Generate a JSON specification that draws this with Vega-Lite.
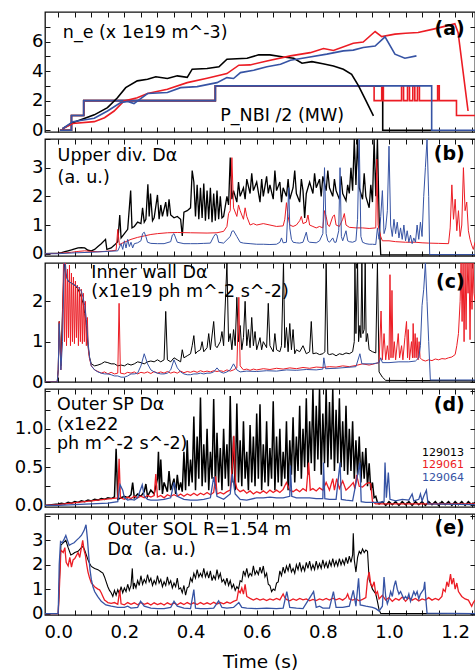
{
"$schema":"https://vega.github.io/schema/vega-lite/v6.json",
"padding":{"left":5,"top":10,"right":1,"bottom":0},
"spacing":7,
"bounds":"flush",
"config":{"view":{"stroke":"#111","strokeWidth":1.3},"concat":{"spacing":7},
"axis":{"domain":false,"grid":false,"labelFont":"DejaVu Sans","labelFontSize":18,"labelColor":"#000","tickColor":"#111","tickWidth":1,"tickSize":-5,"labelPadding":7,"labelOverlap":false,"labelFlush":false,"titleFont":"DejaVu Sans","titleColor":"#000"},
"text":{"font":"DejaVu Sans"}},
"datasets":{
"ak":[{"t":0.013,"v":0.1},{"t":0.044,"v":0.51},{"t":0.109,"v":1.04},{"t":0.149,"v":1.53},{"t":0.179,"v":2.2},{"t":0.204,"v":2.88},{"t":0.239,"v":3.34},{"t":0.27,"v":3.45},{"t":0.295,"v":3.62},{"t":0.33,"v":3.5},{"t":0.36,"v":3.68},{"t":0.39,"v":3.58},{"t":0.405,"v":4.13},{"t":0.45,"v":4.18},{"t":0.486,"v":4.29},{"t":0.51,"v":4.8},{"t":0.571,"v":4.87},{"t":0.606,"v":5.1},{"t":0.64,"v":5.1},{"t":0.681,"v":4.96},{"t":0.712,"v":4.87},{"t":0.737,"v":4.53},{"t":0.767,"v":4.64},{"t":0.8,"v":4.5},{"t":0.832,"v":4.35},{"t":0.862,"v":4.13},{"t":0.887,"v":3.79},{"t":0.908,"v":3.0},{"t":0.928,"v":2.1},{"t":0.953,"v":0.97}],
"ar":[{"t":0.013,"v":0.1},{"t":0.044,"v":0.45},{"t":0.109,"v":0.58},{"t":0.14,"v":0.85},{"t":0.169,"v":1.3},{"t":0.199,"v":1.98},{"t":0.239,"v":2.2},{"t":0.27,"v":2.48},{"t":0.33,"v":2.77},{"t":0.39,"v":3.22},{"t":0.45,"v":3.52},{"t":0.51,"v":3.83},{"t":0.546,"v":4.4},{"t":0.58,"v":4.42},{"t":0.631,"v":4.69},{"t":0.702,"v":5.03},{"t":0.762,"v":5.25},{"t":0.802,"v":5.53},{"t":0.832,"v":5.4},{"t":0.892,"v":5.89},{"t":0.922,"v":5.97},{"t":0.958,"v":6.68},{"t":0.978,"v":6.34},{"t":1.018,"v":6.5},{"t":1.05,"v":6.56},{"t":1.088,"v":6.61},{"t":1.134,"v":6.84},{"t":1.174,"v":7.06},{"t":1.199,"v":7.2},{"t":1.209,"v":6.6},{"t":1.239,"v":1.3}],
"ab":[{"t":0.013,"v":0.1},{"t":0.044,"v":0.58},{"t":0.109,"v":0.81},{"t":0.149,"v":1.3},{"t":0.189,"v":1.87},{"t":0.21,"v":1.95},{"t":0.229,"v":1.8},{"t":0.27,"v":2.48},{"t":0.33,"v":2.55},{"t":0.37,"v":2.88},{"t":0.42,"v":2.95},{"t":0.48,"v":3.22},{"t":0.51,"v":3.56},{"t":0.53,"v":3.5},{"t":0.551,"v":3.9},{"t":0.591,"v":4.06},{"t":0.631,"v":4.29},{"t":0.672,"v":4.47},{"t":0.702,"v":4.74},{"t":0.752,"v":4.92},{"t":0.812,"v":5.15},{"t":0.862,"v":5.37},{"t":0.892,"v":5.42},{"t":0.922,"v":5.6},{"t":0.958,"v":5.7},{"t":0.988,"v":6.32},{"t":1.018,"v":5.15},{"t":1.048,"v":4.87},{"t":1.083,"v":5.03}],
"pk":[{"t":0.005,"v":0},{"t":0.04,"v":1},{"t":0.077,"v":2},{"t":0.475,"v":3},{"t":0.981,"v":0},{"t":1.13,"v":0}],
"pr":[{"t":0.005,"v":0},{"t":0.04,"v":1},{"t":0.077,"v":2},{"t":0.475,"v":3},{"t":0.955,"v":2},{"t":0.978,"v":3},{"t":0.983,"v":2},{"t":1.038,"v":3},{"t":1.044,"v":2},{"t":1.056,"v":3},{"t":1.062,"v":2},{"t":1.072,"v":3},{"t":1.078,"v":2},{"t":1.086,"v":3},{"t":1.092,"v":2},{"t":1.147,"v":3},{"t":1.152,"v":2},{"t":1.204,"v":1},{"t":1.26,"v":1}],
"pb":[{"t":0.005,"v":0},{"t":0.04,"v":1},{"t":0.077,"v":2},{"t":0.475,"v":3},{"t":1.129,"v":0},{"t":1.26,"v":0}],
"bk":[{"t":-0.04,"v":0},{"t":0,"v":0.02},{"t":0.01,"v":0.04},{"t":0.02,"v":0.07},{"t":0.03,"v":0.1},{"t":0.04,"v":0.13},{"t":0.05,"v":0.17},{"t":0.06,"v":0.2},{"t":0.07,"v":0.21},{"t":0.08,"v":0.2},{"t":0.09,"v":0.12},{"t":0.1,"v":0.1},{"t":0.11,"v":0.15},{"t":0.12,"v":0.25},{"t":0.13,"v":0.35},{"t":0.143,"v":0.5},{"t":0.147,"v":0.15},{"t":0.16,"v":0.2},{"t":0.17,"v":0.3},{"t":0.18,"v":0.42},{"t":0.186,"v":1.35},{"t":0.19,"v":0.55},{"t":0.2,"v":0.7},{"t":0.21,"v":0.85},{"t":0.219,"v":2.2},{"t":0.223,"v":0.9},{"t":0.23,"v":0.95},{"t":0.24,"v":1.1},{"t":0.25,"v":1.05},{"t":0.255,"v":1.6},{"t":0.26,"v":1.1},{"t":0.265,"v":1.2},{"t":0.271,"v":2.42},{"t":0.275,"v":1.3},{"t":0.279,"v":2.1},{"t":0.285,"v":1.15},{"t":0.29,"v":1.25},{"t":0.3,"v":2.05},{"t":0.305,"v":1.2},{"t":0.31,"v":1.7},{"t":0.315,"v":1.3},{"t":0.325,"v":1.8},{"t":0.33,"v":1.3},{"t":0.335,"v":1.9},{"t":0.34,"v":1.35},{"t":0.35,"v":1.25},{"t":0.36,"v":1.3},{"t":0.37,"v":1.2},{"t":0.375,"v":0.62},{"t":0.38,"v":1.45},{"t":0.39,"v":1.5},{"t":0.4,"v":1.6},{"t":0.405,"v":2.9},{"t":0.41,"v":2.5},{"t":0.415,"v":1.3},{"t":0.42,"v":2.4},{"t":0.425,"v":1.2},{"t":0.43,"v":2.3},{"t":0.435,"v":1.25},{"t":0.44,"v":2.45},{"t":0.445,"v":1.15},{"t":0.45,"v":2.2},{"t":0.455,"v":1.2},{"t":0.46,"v":2.3},{"t":0.465,"v":1.1},{"t":0.47,"v":2.1},{"t":0.475,"v":1.15},{"t":0.48,"v":2.2},{"t":0.485,"v":1.2},{"t":0.49,"v":2.0},{"t":0.495,"v":1.25},{"t":0.5,"v":1.3},{"t":0.51,"v":2.0},{"t":0.515,"v":1.7},{"t":0.52,"v":3.35},{"t":0.525,"v":1.9},{"t":0.53,"v":2.2},{"t":0.54,"v":1.8},{"t":0.545,"v":2.5},{"t":0.55,"v":2.0},{"t":0.56,"v":2.3},{"t":0.565,"v":1.9},{"t":0.57,"v":2.6},{"t":0.58,"v":2.1},{"t":0.585,"v":2.8},{"t":0.59,"v":2.2},{"t":0.6,"v":2.5},{"t":0.61,"v":1.8},{"t":0.615,"v":2.6},{"t":0.62,"v":2.0},{"t":0.63,"v":2.7},{"t":0.635,"v":2.1},{"t":0.64,"v":2.4},{"t":0.65,"v":1.9},{"t":0.655,"v":2.9},{"t":0.66,"v":2.2},{"t":0.67,"v":2.5},{"t":0.675,"v":1.8},{"t":0.68,"v":2.3},{"t":0.69,"v":2.0},{"t":0.695,"v":2.6},{"t":0.7,"v":1.9},{"t":0.71,"v":2.3},{"t":0.715,"v":2.9},{"t":0.72,"v":2.1},{"t":0.73,"v":1.8},{"t":0.735,"v":2.6},{"t":0.74,"v":2.2},{"t":0.745,"v":1.25},{"t":0.75,"v":2.1},{"t":0.755,"v":2.3},{"t":0.76,"v":2.5},{"t":0.77,"v":2.1},{"t":0.775,"v":2.8},{"t":0.78,"v":2.3},{"t":0.79,"v":2.6},{"t":0.795,"v":2.0},{"t":0.8,"v":2.7},{"t":0.81,"v":2.2},{"t":0.815,"v":2.9},{"t":0.82,"v":2.3},{"t":0.83,"v":2.0},{"t":0.835,"v":2.6},{"t":0.84,"v":2.2},{"t":0.85,"v":1.9},{"t":0.855,"v":2.7},{"t":0.86,"v":2.1},{"t":0.87,"v":1.85},{"t":0.875,"v":2.4},{"t":0.88,"v":2.1},{"t":0.885,"v":3.0},{"t":0.89,"v":2.2},{"t":0.895,"v":4.0},{"t":0.9,"v":2.4},{"t":0.905,"v":4.0},{"t":0.91,"v":2.3},{"t":0.92,"v":1.9},{"t":0.925,"v":2.8},{"t":0.93,"v":2.0},{"t":0.94,"v":1.6},{"t":0.945,"v":2.4},{"t":0.95,"v":1.8},{"t":0.955,"v":4.0},{"t":0.96,"v":2.0},{"t":0.965,"v":4.0},{"t":0.97,"v":1.3},{"t":0.975,"v":-0.04},{"t":1.26,"v":-0.04}],
"br":[{"t":-0.04,"v":0},{"t":0,"v":0.01},{"t":0.02,"v":0.03},{"t":0.04,"v":0.05},{"t":0.06,"v":0.08},{"t":0.08,"v":0.1},{"t":0.1,"v":0.08},{"t":0.12,"v":0.07},{"t":0.14,"v":0.08},{"t":0.16,"v":0.1},{"t":0.175,"v":0.12},{"t":0.18,"v":0.85},{"t":0.185,"v":0.3},{"t":0.19,"v":0.35},{"t":0.2,"v":0.4},{"t":0.22,"v":0.5},{"t":0.24,"v":0.57},{"t":0.26,"v":0.62},{"t":0.28,"v":0.67},{"t":0.3,"v":0.7},{"t":0.33,"v":0.73},{"t":0.36,"v":0.74},{"t":0.4,"v":0.73},{"t":0.45,"v":0.72},{"t":0.48,"v":0.73},{"t":0.5,"v":0.78},{"t":0.51,"v":0.95},{"t":0.515,"v":1.4},{"t":0.52,"v":1.5},{"t":0.525,"v":3.35},{"t":0.53,"v":1.6},{"t":0.54,"v":1.3},{"t":0.545,"v":1.7},{"t":0.55,"v":1.5},{"t":0.56,"v":1.2},{"t":0.565,"v":1.6},{"t":0.57,"v":1.3},{"t":0.58,"v":1.0},{"t":0.59,"v":1.05},{"t":0.6,"v":1.0},{"t":0.62,"v":1.05},{"t":0.64,"v":1.0},{"t":0.66,"v":0.95},{"t":0.68,"v":0.97},{"t":0.685,"v":1.2},{"t":0.69,"v":1.78},{"t":0.695,"v":1.3},{"t":0.7,"v":1.0},{"t":0.71,"v":0.95},{"t":0.72,"v":1.0},{"t":0.73,"v":1.15},{"t":0.735,"v":1.3},{"t":0.74,"v":1.05},{"t":0.75,"v":1.1},{"t":0.755,"v":1.35},{"t":0.76,"v":1.0},{"t":0.77,"v":0.95},{"t":0.78,"v":0.9},{"t":0.79,"v":0.95},{"t":0.8,"v":0.9},{"t":0.805,"v":1.5},{"t":0.81,"v":1.3},{"t":0.815,"v":1.0},{"t":0.82,"v":0.95},{"t":0.83,"v":1.3},{"t":0.835,"v":1.35},{"t":0.84,"v":1.0},{"t":0.85,"v":0.95},{"t":0.86,"v":1.2},{"t":0.865,"v":1.4},{"t":0.87,"v":1.0},{"t":0.88,"v":0.92},{"t":0.9,"v":0.9},{"t":0.92,"v":0.9},{"t":0.94,"v":0.88},{"t":0.96,"v":0.9},{"t":0.963,"v":3.3},{"t":0.967,"v":1.0},{"t":0.975,"v":0.6},{"t":0.98,"v":0.45},{"t":1.0,"v":0.45},{"t":1.02,"v":0.42},{"t":1.05,"v":0.4},{"t":1.08,"v":0.4},{"t":1.1,"v":0.38},{"t":1.12,"v":0.37},{"t":1.15,"v":0.36},{"t":1.18,"v":0.35},{"t":1.185,"v":0.9},{"t":1.19,"v":2.4},{"t":1.195,"v":1.2},{"t":1.2,"v":1.9},{"t":1.205,"v":0.8},{"t":1.21,"v":1.5},{"t":1.215,"v":0.6},{"t":1.22,"v":1.0},{"t":1.225,"v":3.0},{"t":1.23,"v":1.5},{"t":1.235,"v":1.8},{"t":1.24,"v":0.8},{"t":1.245,"v":0.5},{"t":1.25,"v":0.3},{"t":1.255,"v":0.15},{"t":1.26,"v":0.4}],
"bb":[{"t":-0.04,"v":0},{"t":0,"v":0.0},{"t":0.05,"v":0.03},{"t":0.1,"v":0.05},{"t":0.15,"v":0.08},{"t":0.18,"v":0.1},{"t":0.19,"v":0.35},{"t":0.195,"v":0.15},{"t":0.2,"v":0.45},{"t":0.205,"v":0.2},{"t":0.21,"v":0.5},{"t":0.215,"v":0.25},{"t":0.22,"v":0.4},{"t":0.225,"v":0.2},{"t":0.23,"v":0.35},{"t":0.24,"v":0.38},{"t":0.25,"v":0.45},{"t":0.255,"v":0.7},{"t":0.26,"v":0.75},{"t":0.265,"v":0.6},{"t":0.27,"v":0.4},{"t":0.28,"v":0.36},{"t":0.3,"v":0.35},{"t":0.32,"v":0.35},{"t":0.34,"v":0.42},{"t":0.345,"v":0.65},{"t":0.35,"v":0.7},{"t":0.355,"v":0.55},{"t":0.36,"v":0.4},{"t":0.38,"v":0.35},{"t":0.4,"v":0.35},{"t":0.42,"v":0.35},{"t":0.44,"v":0.36},{"t":0.46,"v":0.37},{"t":0.47,"v":0.6},{"t":0.475,"v":0.68},{"t":0.48,"v":0.65},{"t":0.485,"v":0.4},{"t":0.5,"v":0.37},{"t":0.52,"v":0.6},{"t":0.525,"v":0.78},{"t":0.53,"v":0.8},{"t":0.54,"v":0.6},{"t":0.55,"v":0.4},{"t":0.56,"v":0.37},{"t":0.58,"v":0.35},{"t":0.6,"v":0.33},{"t":0.62,"v":0.33},{"t":0.64,"v":0.32},{"t":0.66,"v":0.33},{"t":0.67,"v":0.4},{"t":0.675,"v":0.55},{"t":0.68,"v":0.38},{"t":0.69,"v":0.4},{"t":0.697,"v":2.3},{"t":0.7,"v":0.9},{"t":0.705,"v":0.5},{"t":0.71,"v":0.4},{"t":0.72,"v":0.38},{"t":0.73,"v":0.37},{"t":0.74,"v":0.4},{"t":0.75,"v":0.75},{"t":0.755,"v":0.45},{"t":0.76,"v":0.4},{"t":0.78,"v":0.38},{"t":0.79,"v":0.45},{"t":0.8,"v":0.7},{"t":0.805,"v":3.0},{"t":0.81,"v":0.7},{"t":0.815,"v":0.45},{"t":0.82,"v":0.4},{"t":0.83,"v":0.55},{"t":0.835,"v":0.4},{"t":0.84,"v":0.4},{"t":0.848,"v":0.8},{"t":0.852,"v":3.0},{"t":0.856,"v":0.6},{"t":0.86,"v":0.45},{"t":0.87,"v":0.8},{"t":0.875,"v":0.45},{"t":0.88,"v":0.42},{"t":0.89,"v":0.4},{"t":0.9,"v":0.45},{"t":0.905,"v":1.2},{"t":0.91,"v":4.0},{"t":0.915,"v":0.6},{"t":0.92,"v":0.4},{"t":0.93,"v":0.35},{"t":0.94,"v":0.33},{"t":0.95,"v":0.33},{"t":0.96,"v":0.32},{"t":0.965,"v":0.9},{"t":0.97,"v":0.5},{"t":0.975,"v":1.3},{"t":0.98,"v":2.2},{"t":0.985,"v":0.7},{"t":0.99,"v":0.9},{"t":0.995,"v":1.5},{"t":1.0,"v":3.75},{"t":1.005,"v":1.0},{"t":1.01,"v":0.6},{"t":1.015,"v":1.2},{"t":1.02,"v":0.7},{"t":1.025,"v":1.1},{"t":1.03,"v":0.55},{"t":1.035,"v":0.9},{"t":1.04,"v":0.5},{"t":1.045,"v":1.0},{"t":1.05,"v":0.45},{"t":1.055,"v":0.8},{"t":1.06,"v":0.4},{"t":1.065,"v":0.65},{"t":1.07,"v":0.35},{"t":1.075,"v":0.55},{"t":1.08,"v":0.4},{"t":1.085,"v":1.0},{"t":1.09,"v":0.5},{"t":1.095,"v":1.1},{"t":1.1,"v":0.6},{"t":1.105,"v":2.0},{"t":1.11,"v":3.0},{"t":1.115,"v":4.0},{"t":1.12,"v":2.0},{"t":1.123,"v":-0.03},{"t":1.26,"v":-0.03}],
"ck":[{"t":-0.04,"v":0},{"t":-0.003,"v":0},{"t":0,"v":0.3},{"t":0.003,"v":1.5},{"t":0.008,"v":0.4},{"t":0.013,"v":1.8},{"t":0.018,"v":2.95},{"t":0.022,"v":2.7},{"t":0.03,"v":2.5},{"t":0.04,"v":2.45},{"t":0.05,"v":2.4},{"t":0.06,"v":2.3},{"t":0.07,"v":2.1},{"t":0.075,"v":1.95},{"t":0.08,"v":1.7},{"t":0.085,"v":1.4},{"t":0.09,"v":0.9},{"t":0.095,"v":0.6},{"t":0.1,"v":0.45},{"t":0.11,"v":0.4},{"t":0.12,"v":0.42},{"t":0.13,"v":0.45},{"t":0.14,"v":0.5},{"t":0.15,"v":0.48},{"t":0.16,"v":0.45},{"t":0.17,"v":0.45},{"t":0.18,"v":0.4},{"t":0.19,"v":0.42},{"t":0.2,"v":0.4},{"t":0.21,"v":0.45},{"t":0.22,"v":0.42},{"t":0.23,"v":0.45},{"t":0.24,"v":0.5},{"t":0.25,"v":0.48},{"t":0.26,"v":0.45},{"t":0.27,"v":0.5},{"t":0.28,"v":0.52},{"t":0.29,"v":0.5},{"t":0.3,"v":0.55},{"t":0.31,"v":0.5},{"t":0.32,"v":0.55},{"t":0.325,"v":1.75},{"t":0.33,"v":0.55},{"t":0.34,"v":0.5},{"t":0.35,"v":0.6},{"t":0.36,"v":0.55},{"t":0.37,"v":0.5},{"t":0.375,"v":0.8},{"t":0.38,"v":0.6},{"t":0.39,"v":0.65},{"t":0.4,"v":0.7},{"t":0.405,"v":0.9},{"t":0.41,"v":1.15},{"t":0.415,"v":0.7},{"t":0.42,"v":0.75},{"t":0.43,"v":0.8},{"t":0.435,"v":1.0},{"t":0.44,"v":0.75},{"t":0.45,"v":0.85},{"t":0.455,"v":1.2},{"t":0.46,"v":0.8},{"t":0.47,"v":1.5},{"t":0.475,"v":0.9},{"t":0.48,"v":0.85},{"t":0.49,"v":1.0},{"t":0.495,"v":1.25},{"t":0.5,"v":0.9},{"t":0.51,"v":2.95},{"t":0.515,"v":1.0},{"t":0.52,"v":1.2},{"t":0.525,"v":0.8},{"t":0.53,"v":1.3},{"t":0.535,"v":0.9},{"t":0.54,"v":2.1},{"t":0.545,"v":1.0},{"t":0.55,"v":1.4},{"t":0.555,"v":0.8},{"t":0.56,"v":1.1},{"t":0.565,"v":2.0},{"t":0.57,"v":0.9},{"t":0.575,"v":1.3},{"t":0.58,"v":0.85},{"t":0.585,"v":1.6},{"t":0.59,"v":0.9},{"t":0.595,"v":1.25},{"t":0.6,"v":0.8},{"t":0.61,"v":1.1},{"t":0.615,"v":0.8},{"t":0.62,"v":1.0},{"t":0.63,"v":0.85},{"t":0.635,"v":1.95},{"t":0.64,"v":0.9},{"t":0.65,"v":0.75},{"t":0.655,"v":1.2},{"t":0.66,"v":0.8},{"t":0.67,"v":0.75},{"t":0.675,"v":0.9},{"t":0.681,"v":2.95},{"t":0.685,"v":0.85},{"t":0.69,"v":1.35},{"t":0.695,"v":0.75},{"t":0.7,"v":1.45},{"t":0.705,"v":0.8},{"t":0.71,"v":1.3},{"t":0.715,"v":0.7},{"t":0.72,"v":0.8},{"t":0.73,"v":0.75},{"t":0.74,"v":0.9},{"t":0.75,"v":0.7},{"t":0.76,"v":0.75},{"t":0.765,"v":1.5},{"t":0.77,"v":0.7},{"t":0.78,"v":0.72},{"t":0.79,"v":0.68},{"t":0.8,"v":0.7},{"t":0.806,"v":0.75},{"t":0.81,"v":2.95},{"t":0.815,"v":0.7},{"t":0.82,"v":0.68},{"t":0.83,"v":0.7},{"t":0.84,"v":0.65},{"t":0.85,"v":0.7},{"t":0.86,"v":0.68},{"t":0.87,"v":0.72},{"t":0.88,"v":0.7},{"t":0.89,"v":0.75},{"t":0.895,"v":1.0},{"t":0.897,"v":2.95},{"t":0.9,"v":1.2},{"t":0.905,"v":2.95},{"t":0.908,"v":1.0},{"t":0.912,"v":1.4},{"t":0.915,"v":1.1},{"t":0.918,"v":2.95},{"t":0.921,"v":1.2},{"t":0.925,"v":1.3},{"t":0.928,"v":2.95},{"t":0.931,"v":1.0},{"t":0.935,"v":1.2},{"t":0.94,"v":0.8},{"t":0.95,"v":0.75},{"t":0.96,"v":0.72},{"t":0.965,"v":2.95},{"t":0.97,"v":0.25},{"t":0.98,"v":0.12},{"t":0.99,"v":0.04},{"t":1.26,"v":0.03}],
"cr":[{"t":-0.04,"v":0},{"t":-0.003,"v":0},{"t":0,"v":0.3},{"t":0.003,"v":1.5},{"t":0.008,"v":0.3},{"t":0.012,"v":1.2},{"t":0.016,"v":2.95},{"t":0.019,"v":1.0},{"t":0.022,"v":2.95},{"t":0.025,"v":0.9},{"t":0.028,"v":2.8},{"t":0.031,"v":1.1},{"t":0.034,"v":2.9},{"t":0.037,"v":0.9},{"t":0.04,"v":2.7},{"t":0.043,"v":1.0},{"t":0.046,"v":2.6},{"t":0.049,"v":0.95},{"t":0.052,"v":2.5},{"t":0.055,"v":1.1},{"t":0.058,"v":2.4},{"t":0.061,"v":0.9},{"t":0.064,"v":2.35},{"t":0.067,"v":1.0},{"t":0.07,"v":2.3},{"t":0.073,"v":0.95},{"t":0.076,"v":2.2},{"t":0.079,"v":1.0},{"t":0.082,"v":2.0},{"t":0.085,"v":0.9},{"t":0.088,"v":1.6},{"t":0.091,"v":0.8},{"t":0.094,"v":0.6},{"t":0.1,"v":0.4},{"t":0.11,"v":0.3},{"t":0.12,"v":0.26},{"t":0.13,"v":0.22},{"t":0.14,"v":0.25},{"t":0.15,"v":0.2},{"t":0.16,"v":0.24},{"t":0.17,"v":0.2},{"t":0.18,"v":0.22},{"t":0.184,"v":1.95},{"t":0.188,"v":0.22},{"t":0.2,"v":0.2},{"t":0.21,"v":0.24},{"t":0.22,"v":0.22},{"t":0.23,"v":0.25},{"t":0.24,"v":0.2},{"t":0.25,"v":0.24},{"t":0.26,"v":0.22},{"t":0.27,"v":0.25},{"t":0.28,"v":0.21},{"t":0.29,"v":0.26},{"t":0.3,"v":0.22},{"t":0.31,"v":0.25},{"t":0.32,"v":0.22},{"t":0.33,"v":0.26},{"t":0.34,"v":0.22},{"t":0.35,"v":0.25},{"t":0.36,"v":0.22},{"t":0.37,"v":0.27},{"t":0.38,"v":0.23},{"t":0.39,"v":0.26},{"t":0.4,"v":0.24},{"t":0.41,"v":0.27},{"t":0.42,"v":0.24},{"t":0.43,"v":0.28},{"t":0.44,"v":0.25},{"t":0.45,"v":0.27},{"t":0.46,"v":0.25},{"t":0.47,"v":0.28},{"t":0.48,"v":0.26},{"t":0.49,"v":0.28},{"t":0.5,"v":0.26},{"t":0.51,"v":0.3},{"t":0.52,"v":0.27},{"t":0.53,"v":0.3},{"t":0.54,"v":0.35},{"t":0.546,"v":2.1},{"t":0.55,"v":0.4},{"t":0.56,"v":0.3},{"t":0.57,"v":0.32},{"t":0.58,"v":0.29},{"t":0.59,"v":0.32},{"t":0.6,"v":0.3},{"t":0.62,"v":0.33},{"t":0.64,"v":0.31},{"t":0.66,"v":0.34},{"t":0.68,"v":0.32},{"t":0.7,"v":0.35},{"t":0.72,"v":0.33},{"t":0.74,"v":0.36},{"t":0.76,"v":0.34},{"t":0.78,"v":0.37},{"t":0.8,"v":0.36},{"t":0.82,"v":0.38},{"t":0.84,"v":0.37},{"t":0.86,"v":0.4},{"t":0.88,"v":0.38},{"t":0.9,"v":0.41},{"t":0.92,"v":0.45},{"t":0.94,"v":0.42},{"t":0.96,"v":0.46},{"t":0.97,"v":0.48},{"t":0.976,"v":1.76},{"t":0.98,"v":0.55},{"t":0.985,"v":1.2},{"t":0.99,"v":0.55},{"t":0.995,"v":0.9},{"t":1.0,"v":0.55},{"t":1.003,"v":2.66},{"t":1.006,"v":0.6},{"t":1.009,"v":2.27},{"t":1.012,"v":0.6},{"t":1.016,"v":1.0},{"t":1.02,"v":0.55},{"t":1.028,"v":1.2},{"t":1.032,"v":0.6},{"t":1.038,"v":0.9},{"t":1.042,"v":0.55},{"t":1.048,"v":1.1},{"t":1.053,"v":1.5},{"t":1.056,"v":0.6},{"t":1.058,"v":1.3},{"t":1.062,"v":0.55},{"t":1.068,"v":1.0},{"t":1.071,"v":0.6},{"t":1.073,"v":1.45},{"t":1.076,"v":0.6},{"t":1.079,"v":1.2},{"t":1.082,"v":0.6},{"t":1.085,"v":1.1},{"t":1.088,"v":0.55},{"t":1.091,"v":1.0},{"t":1.094,"v":0.6},{"t":1.1,"v":0.55},{"t":1.11,"v":0.52},{"t":1.12,"v":0.55},{"t":1.13,"v":0.53},{"t":1.14,"v":0.57},{"t":1.15,"v":0.55},{"t":1.16,"v":0.58},{"t":1.17,"v":0.57},{"t":1.18,"v":0.6},{"t":1.19,"v":0.62},{"t":1.2,"v":0.68},{"t":1.205,"v":0.9},{"t":1.21,"v":1.2},{"t":1.215,"v":2.0},{"t":1.218,"v":2.95},{"t":1.221,"v":1.5},{"t":1.224,"v":2.95},{"t":1.227,"v":1.0},{"t":1.23,"v":2.95},{"t":1.233,"v":1.3},{"t":1.236,"v":2.95},{"t":1.239,"v":2.2},{"t":1.242,"v":2.95},{"t":1.245,"v":1.05},{"t":1.248,"v":2.95},{"t":1.251,"v":1.8},{"t":1.254,"v":2.95},{"t":1.257,"v":2.2},{"t":1.26,"v":2.0}],
"cb":[{"t":-0.04,"v":0},{"t":-0.003,"v":0},{"t":0,"v":0.3},{"t":0.003,"v":1.45},{"t":0.008,"v":0.3},{"t":0.013,"v":1.0},{"t":0.018,"v":2.95},{"t":0.022,"v":2.9},{"t":0.025,"v":2.6},{"t":0.03,"v":2.5},{"t":0.04,"v":2.45},{"t":0.05,"v":2.4},{"t":0.06,"v":2.35},{"t":0.07,"v":2.25},{"t":0.075,"v":2.1},{"t":0.08,"v":1.9},{"t":0.085,"v":1.55},{"t":0.09,"v":1.0},{"t":0.095,"v":0.6},{"t":0.1,"v":0.4},{"t":0.11,"v":0.3},{"t":0.12,"v":0.25},{"t":0.13,"v":0.22},{"t":0.14,"v":0.2},{"t":0.15,"v":0.2},{"t":0.16,"v":0.18},{"t":0.17,"v":0.15},{"t":0.18,"v":0.15},{"t":0.19,"v":0.12},{"t":0.2,"v":0.12},{"t":0.21,"v":0.15},{"t":0.22,"v":0.2},{"t":0.23,"v":0.2},{"t":0.24,"v":0.22},{"t":0.25,"v":0.4},{"t":0.26,"v":0.7},{"t":0.27,"v":0.45},{"t":0.28,"v":0.3},{"t":0.29,"v":0.25},{"t":0.3,"v":0.22},{"t":0.31,"v":0.2},{"t":0.32,"v":0.2},{"t":0.33,"v":0.22},{"t":0.34,"v":0.3},{"t":0.35,"v":0.55},{"t":0.36,"v":0.35},{"t":0.37,"v":0.25},{"t":0.38,"v":0.2},{"t":0.39,"v":0.18},{"t":0.4,"v":0.18},{"t":0.41,"v":0.2},{"t":0.42,"v":0.2},{"t":0.43,"v":0.22},{"t":0.44,"v":0.2},{"t":0.45,"v":0.22},{"t":0.46,"v":0.22},{"t":0.47,"v":0.25},{"t":0.48,"v":0.35},{"t":0.49,"v":0.25},{"t":0.5,"v":0.22},{"t":0.51,"v":0.25},{"t":0.52,"v":0.3},{"t":0.53,"v":0.45},{"t":0.54,"v":0.3},{"t":0.55,"v":0.25},{"t":0.57,"v":0.27},{"t":0.6,"v":0.26},{"t":0.63,"v":0.28},{"t":0.66,"v":0.27},{"t":0.69,"v":0.3},{"t":0.72,"v":0.29},{"t":0.75,"v":0.31},{"t":0.78,"v":0.3},{"t":0.8,"v":0.32},{"t":0.803,"v":0.6},{"t":0.808,"v":0.33},{"t":0.84,"v":0.34},{"t":0.87,"v":0.36},{"t":0.9,"v":0.38},{"t":0.912,"v":0.7},{"t":0.918,"v":0.45},{"t":0.95,"v":0.45},{"t":0.97,"v":0.48},{"t":0.975,"v":0.6},{"t":0.98,"v":0.48},{"t":1.0,"v":0.48},{"t":1.03,"v":0.5},{"t":1.06,"v":0.5},{"t":1.08,"v":0.52},{"t":1.09,"v":0.6},{"t":1.095,"v":0.9},{"t":1.1,"v":1.9},{"t":1.105,"v":2.3},{"t":1.11,"v":2.95},{"t":1.115,"v":2.0},{"t":1.12,"v":1.0},{"t":1.125,"v":0.05},{"t":1.26,"v":0.05}],
"dk":[{"t":-0.04,"v":0},{"t":0,"v":0.02},{"t":0.01,"v":0.03},{"t":0.02,"v":0.02},{"t":0.03,"v":0.04},{"t":0.04,"v":0.03},{"t":0.05,"v":0.05},{"t":0.06,"v":0.04},{"t":0.07,"v":0.06},{"t":0.08,"v":0.05},{"t":0.09,"v":0.07},{"t":0.1,"v":0.06},{"t":0.11,"v":0.08},{"t":0.12,"v":0.07},{"t":0.13,"v":0.09},{"t":0.14,"v":0.08},{"t":0.15,"v":0.1},{"t":0.16,"v":0.09},{"t":0.17,"v":0.11},{"t":0.175,"v":0.74},{"t":0.18,"v":0.08},{"t":0.19,"v":0.1},{"t":0.2,"v":0.12},{"t":0.21,"v":0.1},{"t":0.22,"v":0.14},{"t":0.225,"v":0.3},{"t":0.23,"v":0.1},{"t":0.24,"v":0.15},{"t":0.25,"v":0.12},{"t":0.26,"v":0.18},{"t":0.265,"v":0.28},{"t":0.27,"v":0.12},{"t":0.28,"v":0.2},{"t":0.29,"v":0.15},{"t":0.3,"v":0.35},{"t":0.303,"v":0.7},{"t":0.306,"v":0.2},{"t":0.31,"v":0.6},{"t":0.315,"v":0.15},{"t":0.32,"v":0.3},{"t":0.33,"v":0.18},{"t":0.335,"v":0.45},{"t":0.34,"v":0.2},{"t":0.35,"v":0.35},{"t":0.355,"v":0.15},{"t":0.36,"v":0.4},{"t":0.365,"v":0.2},{"t":0.37,"v":0.3},{"t":0.375,"v":0.18},{"t":0.38,"v":0.7},{"t":0.385,"v":0.2},{"t":0.39,"v":0.85},{"t":0.395,"v":0.25},{"t":0.4,"v":0.6},{"t":0.405,"v":0.3},{"t":0.41,"v":1.16},{"t":0.415,"v":0.2},{"t":0.42,"v":0.9},{"t":0.425,"v":0.35},{"t":0.43,"v":1.41},{"t":0.435,"v":0.25},{"t":0.44,"v":0.8},{"t":0.445,"v":0.3},{"t":0.45,"v":1.0},{"t":0.455,"v":0.2},{"t":0.46,"v":0.7},{"t":0.465,"v":0.35},{"t":0.47,"v":1.39},{"t":0.475,"v":0.25},{"t":0.48,"v":0.95},{"t":0.485,"v":0.3},{"t":0.49,"v":0.75},{"t":0.495,"v":0.2},{"t":0.5,"v":1.0},{"t":0.505,"v":0.35},{"t":0.51,"v":0.8},{"t":0.515,"v":0.25},{"t":0.52,"v":1.43},{"t":0.525,"v":0.3},{"t":0.53,"v":0.9},{"t":0.535,"v":0.2},{"t":0.54,"v":1.33},{"t":0.545,"v":0.3},{"t":0.55,"v":0.85},{"t":0.555,"v":0.25},{"t":0.56,"v":1.1},{"t":0.565,"v":0.35},{"t":0.57,"v":0.7},{"t":0.575,"v":0.2},{"t":0.58,"v":1.05},{"t":0.585,"v":0.3},{"t":0.59,"v":0.9},{"t":0.595,"v":0.25},{"t":0.6,"v":1.2},{"t":0.605,"v":0.35},{"t":0.61,"v":1.32},{"t":0.615,"v":0.2},{"t":0.62,"v":0.8},{"t":0.625,"v":0.3},{"t":0.63,"v":1.1},{"t":0.635,"v":0.25},{"t":0.64,"v":0.75},{"t":0.645,"v":0.35},{"t":0.65,"v":1.36},{"t":0.655,"v":0.2},{"t":0.66,"v":0.9},{"t":0.665,"v":0.3},{"t":0.67,"v":1.0},{"t":0.675,"v":0.25},{"t":0.68,"v":0.7},{"t":0.685,"v":0.35},{"t":0.69,"v":1.1},{"t":0.695,"v":0.2},{"t":0.7,"v":0.85},{"t":0.705,"v":0.4},{"t":0.71,"v":1.15},{"t":0.715,"v":0.3},{"t":0.72,"v":0.9},{"t":0.725,"v":0.45},{"t":0.73,"v":1.3},{"t":0.735,"v":0.35},{"t":0.74,"v":1.0},{"t":0.745,"v":0.5},{"t":0.75,"v":1.4},{"t":0.755,"v":0.4},{"t":0.76,"v":1.1},{"t":0.765,"v":0.55},{"t":0.77,"v":1.52},{"t":0.775,"v":0.45},{"t":0.78,"v":1.3},{"t":0.785,"v":0.6},{"t":0.79,"v":1.52},{"t":0.795,"v":0.4},{"t":0.8,"v":1.2},{"t":0.805,"v":0.55},{"t":0.81,"v":1.52},{"t":0.815,"v":0.5},{"t":0.82,"v":1.35},{"t":0.825,"v":0.6},{"t":0.83,"v":1.52},{"t":0.835,"v":0.45},{"t":0.84,"v":1.25},{"t":0.845,"v":0.55},{"t":0.85,"v":1.4},{"t":0.855,"v":0.5},{"t":0.86,"v":1.1},{"t":0.865,"v":0.45},{"t":0.87,"v":1.3},{"t":0.875,"v":0.4},{"t":0.88,"v":1.0},{"t":0.885,"v":0.45},{"t":0.89,"v":1.1},{"t":0.895,"v":0.35},{"t":0.9,"v":0.85},{"t":0.905,"v":0.4},{"t":0.91,"v":0.9},{"t":0.915,"v":0.3},{"t":0.92,"v":0.7},{"t":0.925,"v":0.35},{"t":0.93,"v":0.75},{"t":0.935,"v":0.25},{"t":0.94,"v":0.55},{"t":0.945,"v":0.2},{"t":0.95,"v":0.3},{"t":0.955,"v":0.1},{"t":0.96,"v":0.12},{"t":0.965,"v":0.04},{"t":0.97,"v":0.02},{"t":0.98,"v":0.05},{"t":0.99,"v":0.0},{"t":1.0,"v":0.05},{"t":1.01,"v":0.01},{"t":1.02,"v":0.05},{"t":1.03,"v":0.0},{"t":1.04,"v":0.05},{"t":1.05,"v":0.01},{"t":1.06,"v":0.05},{"t":1.07,"v":0.0},{"t":1.08,"v":0.05},{"t":1.09,"v":0.01},{"t":1.1,"v":0.05},{"t":1.11,"v":0.0},{"t":1.12,"v":0.05},{"t":1.13,"v":0.01},{"t":1.14,"v":0.05},{"t":1.15,"v":0.0},{"t":1.16,"v":0.05},{"t":1.17,"v":0.01},{"t":1.18,"v":0.05},{"t":1.19,"v":0.0},{"t":1.2,"v":0.05},{"t":1.21,"v":0.01},{"t":1.22,"v":0.05},{"t":1.23,"v":0.0},{"t":1.24,"v":0.05},{"t":1.25,"v":0.01},{"t":1.26,"v":0.04}],
"dr":[{"t":-0.04,"v":0},{"t":0,"v":0.01},{"t":0.02,"v":0.02},{"t":0.04,"v":0.03},{"t":0.06,"v":0.04},{"t":0.08,"v":0.05},{"t":0.1,"v":0.06},{"t":0.12,"v":0.07},{"t":0.14,"v":0.08},{"t":0.16,"v":0.09},{"t":0.18,"v":0.1},{"t":0.184,"v":0.61},{"t":0.188,"v":0.1},{"t":0.2,"v":0.08},{"t":0.21,"v":0.11},{"t":0.22,"v":0.09},{"t":0.23,"v":0.12},{"t":0.24,"v":0.1},{"t":0.25,"v":0.12},{"t":0.26,"v":0.1},{"t":0.27,"v":0.13},{"t":0.28,"v":0.11},{"t":0.29,"v":0.13},{"t":0.295,"v":0.41},{"t":0.3,"v":0.11},{"t":0.31,"v":0.13},{"t":0.32,"v":0.1},{"t":0.33,"v":0.14},{"t":0.34,"v":0.12},{"t":0.35,"v":0.14},{"t":0.36,"v":0.12},{"t":0.37,"v":0.15},{"t":0.38,"v":0.12},{"t":0.39,"v":0.15},{"t":0.4,"v":0.13},{"t":0.41,"v":0.16},{"t":0.42,"v":0.13},{"t":0.43,"v":0.16},{"t":0.44,"v":0.14},{"t":0.45,"v":0.17},{"t":0.46,"v":0.14},{"t":0.47,"v":0.17},{"t":0.476,"v":0.38},{"t":0.48,"v":0.15},{"t":0.49,"v":0.17},{"t":0.5,"v":0.15},{"t":0.51,"v":0.18},{"t":0.52,"v":0.2},{"t":0.526,"v":0.5},{"t":0.531,"v":0.91},{"t":0.536,"v":0.3},{"t":0.54,"v":0.22},{"t":0.55,"v":0.18},{"t":0.56,"v":0.2},{"t":0.57,"v":0.16},{"t":0.58,"v":0.19},{"t":0.59,"v":0.15},{"t":0.6,"v":0.18},{"t":0.61,"v":0.16},{"t":0.62,"v":0.19},{"t":0.63,"v":0.16},{"t":0.64,"v":0.2},{"t":0.65,"v":0.17},{"t":0.66,"v":0.2},{"t":0.67,"v":0.17},{"t":0.68,"v":0.21},{"t":0.69,"v":0.3},{"t":0.7,"v":0.2},{"t":0.71,"v":0.18},{"t":0.72,"v":0.21},{"t":0.73,"v":0.18},{"t":0.74,"v":0.22},{"t":0.75,"v":0.19},{"t":0.757,"v":0.56},{"t":0.762,"v":0.2},{"t":0.77,"v":0.22},{"t":0.78,"v":0.19},{"t":0.79,"v":0.23},{"t":0.8,"v":0.2},{"t":0.81,"v":0.3},{"t":0.82,"v":0.2},{"t":0.83,"v":0.35},{"t":0.835,"v":0.2},{"t":0.842,"v":0.35},{"t":0.85,"v":0.22},{"t":0.86,"v":0.32},{"t":0.87,"v":0.2},{"t":0.88,"v":0.24},{"t":0.892,"v":0.3},{"t":0.897,"v":0.22},{"t":0.902,"v":0.4},{"t":0.91,"v":0.25},{"t":0.92,"v":0.24},{"t":0.93,"v":0.28},{"t":0.94,"v":0.3},{"t":0.945,"v":0.28},{"t":0.95,"v":0.05},{"t":0.96,"v":0.02},{"t":1.26,"v":0.02}],
"db":[{"t":-0.04,"v":0},{"t":0,"v":0.0},{"t":0.05,"v":0.01},{"t":0.1,"v":0.02},{"t":0.15,"v":0.03},{"t":0.18,"v":0.05},{"t":0.187,"v":0.27},{"t":0.195,"v":0.2},{"t":0.2,"v":0.1},{"t":0.21,"v":0.07},{"t":0.22,"v":0.08},{"t":0.23,"v":0.07},{"t":0.24,"v":0.1},{"t":0.254,"v":0.27},{"t":0.26,"v":0.12},{"t":0.27,"v":0.08},{"t":0.28,"v":0.07},{"t":0.3,"v":0.07},{"t":0.32,"v":0.08},{"t":0.34,"v":0.1},{"t":0.35,"v":0.3},{"t":0.36,"v":0.12},{"t":0.38,"v":0.08},{"t":0.4,"v":0.07},{"t":0.42,"v":0.07},{"t":0.44,"v":0.08},{"t":0.46,"v":0.1},{"t":0.47,"v":0.37},{"t":0.48,"v":0.12},{"t":0.5,"v":0.08},{"t":0.52,"v":0.15},{"t":0.526,"v":0.41},{"t":0.535,"v":0.15},{"t":0.55,"v":0.08},{"t":0.57,"v":0.07},{"t":0.6,"v":0.1},{"t":0.62,"v":0.1},{"t":0.64,"v":0.11},{"t":0.66,"v":0.1},{"t":0.68,"v":0.1},{"t":0.7,"v":0.12},{"t":0.702,"v":0.52},{"t":0.706,"v":0.12},{"t":0.72,"v":0.1},{"t":0.74,"v":0.1},{"t":0.76,"v":0.1},{"t":0.78,"v":0.09},{"t":0.8,"v":0.09},{"t":0.802,"v":0.56},{"t":0.806,"v":0.09},{"t":0.82,"v":0.08},{"t":0.84,"v":0.08},{"t":0.852,"v":0.56},{"t":0.856,"v":0.08},{"t":0.87,"v":0.07},{"t":0.89,"v":0.06},{"t":0.912,"v":0.56},{"t":0.916,"v":0.05},{"t":0.93,"v":0.04},{"t":0.95,"v":0.04},{"t":0.97,"v":0.04},{"t":0.985,"v":0.05},{"t":0.988,"v":0.56},{"t":0.992,"v":0.1},{"t":0.998,"v":0.43},{"t":1.003,"v":0.08},{"t":1.02,"v":0.06},{"t":1.04,"v":0.08},{"t":1.06,"v":0.07},{"t":1.07,"v":0.15},{"t":1.075,"v":0.06},{"t":1.09,"v":0.08},{"t":1.095,"v":0.15},{"t":1.1,"v":0.06},{"t":1.105,"v":0.12},{"t":1.113,"v":0.2},{"t":1.118,"v":0.02},{"t":1.26,"v":0.01}],
"ek":[{"t":-0.04,"v":0},{"t":0,"v":0},{"t":0.004,"v":1.5},{"t":0.008,"v":2.8},{"t":0.015,"v":2.9},{"t":0.023,"v":3.0},{"t":0.03,"v":2.7},{"t":0.038,"v":2.4},{"t":0.045,"v":2.45},{"t":0.05,"v":2.5},{"t":0.06,"v":2.55},{"t":0.07,"v":2.7},{"t":0.075,"v":2.75},{"t":0.08,"v":2.6},{"t":0.085,"v":2.4},{"t":0.09,"v":2.2},{"t":0.095,"v":2.05},{"t":0.1,"v":1.93},{"t":0.11,"v":1.85},{"t":0.12,"v":1.8},{"t":0.13,"v":1.7},{"t":0.135,"v":1.66},{"t":0.14,"v":1.5},{"t":0.145,"v":1.3},{"t":0.15,"v":1.1},{"t":0.155,"v":0.95},{"t":0.16,"v":0.85},{"t":0.165,"v":0.7},{"t":0.17,"v":0.95},{"t":0.175,"v":0.75},{"t":0.18,"v":0.98},{"t":0.185,"v":0.8},{"t":0.19,"v":1.1},{"t":0.195,"v":0.85},{"t":0.2,"v":1.05},{"t":0.205,"v":0.9},{"t":0.21,"v":1.2},{"t":0.215,"v":0.95},{"t":0.22,"v":1.15},{"t":0.224,"v":1.85},{"t":0.227,"v":1.0},{"t":0.23,"v":1.25},{"t":0.235,"v":1.05},{"t":0.24,"v":1.35},{"t":0.245,"v":1.15},{"t":0.25,"v":1.55},{"t":0.255,"v":1.2},{"t":0.26,"v":1.4},{"t":0.265,"v":1.25},{"t":0.27,"v":1.6},{"t":0.275,"v":1.3},{"t":0.28,"v":1.45},{"t":0.285,"v":1.15},{"t":0.29,"v":1.35},{"t":0.295,"v":1.2},{"t":0.3,"v":1.55},{"t":0.305,"v":1.25},{"t":0.31,"v":1.4},{"t":0.315,"v":1.1},{"t":0.32,"v":1.3},{"t":0.325,"v":1.15},{"t":0.33,"v":1.5},{"t":0.335,"v":1.2},{"t":0.34,"v":1.35},{"t":0.345,"v":1.05},{"t":0.35,"v":1.25},{"t":0.355,"v":1.1},{"t":0.36,"v":1.45},{"t":0.365,"v":1.0},{"t":0.37,"v":1.05},{"t":0.375,"v":0.85},{"t":0.38,"v":1.15},{"t":0.385,"v":0.75},{"t":0.39,"v":1.05},{"t":0.395,"v":1.1},{"t":0.4,"v":1.45},{"t":0.405,"v":1.3},{"t":0.41,"v":1.65},{"t":0.415,"v":1.45},{"t":0.42,"v":1.8},{"t":0.425,"v":1.5},{"t":0.43,"v":1.65},{"t":0.435,"v":1.5},{"t":0.44,"v":1.85},{"t":0.445,"v":1.5},{"t":0.45,"v":1.7},{"t":0.455,"v":1.45},{"t":0.46,"v":1.75},{"t":0.465,"v":1.35},{"t":0.47,"v":1.55},{"t":0.475,"v":1.4},{"t":0.48,"v":1.8},{"t":0.485,"v":1.45},{"t":0.49,"v":1.65},{"t":0.495,"v":1.3},{"t":0.5,"v":1.4},{"t":0.505,"v":1.2},{"t":0.51,"v":1.45},{"t":0.515,"v":1.15},{"t":0.52,"v":1.35},{"t":0.525,"v":1.05},{"t":0.53,"v":1.2},{"t":0.535,"v":0.95},{"t":0.54,"v":1.1},{"t":0.545,"v":1.0},{"t":0.55,"v":1.35},{"t":0.555,"v":1.3},{"t":0.56,"v":1.75},{"t":0.565,"v":1.55},{"t":0.57,"v":1.85},{"t":0.575,"v":1.5},{"t":0.58,"v":1.65},{"t":0.585,"v":1.55},{"t":0.59,"v":1.95},{"t":0.595,"v":1.6},{"t":0.6,"v":1.75},{"t":0.605,"v":1.6},{"t":0.61,"v":1.9},{"t":0.615,"v":1.65},{"t":0.62,"v":1.95},{"t":0.625,"v":1.5},{"t":0.63,"v":1.65},{"t":0.635,"v":1.2},{"t":0.64,"v":1.15},{"t":0.645,"v":0.9},{"t":0.65,"v":1.0},{"t":0.655,"v":0.95},{"t":0.66,"v":1.25},{"t":0.665,"v":1.3},{"t":0.67,"v":1.75},{"t":0.675,"v":1.55},{"t":0.68,"v":1.9},{"t":0.685,"v":1.65},{"t":0.69,"v":1.95},{"t":0.695,"v":1.75},{"t":0.7,"v":2.05},{"t":0.705,"v":1.7},{"t":0.71,"v":1.85},{"t":0.715,"v":1.65},{"t":0.72,"v":2.0},{"t":0.725,"v":1.8},{"t":0.73,"v":2.1},{"t":0.735,"v":1.75},{"t":0.74,"v":1.95},{"t":0.745,"v":1.75},{"t":0.75,"v":2.1},{"t":0.755,"v":1.85},{"t":0.76,"v":2.15},{"t":0.765,"v":1.8},{"t":0.77,"v":2.0},{"t":0.775,"v":1.8},{"t":0.78,"v":2.15},{"t":0.785,"v":1.85},{"t":0.79,"v":2.05},{"t":0.795,"v":1.85},{"t":0.8,"v":2.2},{"t":0.805,"v":1.9},{"t":0.81,"v":2.1},{"t":0.815,"v":1.85},{"t":0.82,"v":2.15},{"t":0.825,"v":1.95},{"t":0.83,"v":2.25},{"t":0.835,"v":1.95},{"t":0.84,"v":2.15},{"t":0.845,"v":1.95},{"t":0.85,"v":2.25},{"t":0.855,"v":2.0},{"t":0.86,"v":2.2},{"t":0.865,"v":2.0},{"t":0.87,"v":2.3},{"t":0.875,"v":2.05},{"t":0.88,"v":2.35},{"t":0.885,"v":2.1},{"t":0.89,"v":2.4},{"t":0.892,"v":3.29},{"t":0.895,"v":2.2},{"t":0.9,"v":1.7},{"t":0.905,"v":2.3},{"t":0.91,"v":2.55},{"t":0.915,"v":2.45},{"t":0.92,"v":2.65},{"t":0.925,"v":2.5},{"t":0.93,"v":2.6},{"t":0.935,"v":2.55},{"t":0.94,"v":1.4},{"t":0.945,"v":1.2},{"t":0.95,"v":1.0},{"t":0.96,"v":0.8},{"t":0.965,"v":0.5},{"t":0.97,"v":0.15},{"t":0.975,"v":0},{"t":1.26,"v":0}],
"er":[{"t":-0.04,"v":0},{"t":0,"v":0},{"t":0.004,"v":1.2},{"t":0.008,"v":2.6},{"t":0.015,"v":2.5},{"t":0.02,"v":2.7},{"t":0.024,"v":2.1},{"t":0.03,"v":1.95},{"t":0.035,"v":2.3},{"t":0.04,"v":1.9},{"t":0.045,"v":2.2},{"t":0.05,"v":2.25},{"t":0.06,"v":2.5},{"t":0.065,"v":2.3},{"t":0.07,"v":2.7},{"t":0.074,"v":3.0},{"t":0.078,"v":2.6},{"t":0.082,"v":2.4},{"t":0.086,"v":2.0},{"t":0.09,"v":1.7},{"t":0.094,"v":1.5},{"t":0.1,"v":1.25},{"t":0.11,"v":1.1},{"t":0.12,"v":1.0},{"t":0.125,"v":0.97},{"t":0.13,"v":0.85},{"t":0.135,"v":0.7},{"t":0.14,"v":0.55},{"t":0.145,"v":0.5},{"t":0.15,"v":0.45},{"t":0.16,"v":0.42},{"t":0.17,"v":0.45},{"t":0.18,"v":0.38},{"t":0.186,"v":0.97},{"t":0.19,"v":0.4},{"t":0.2,"v":0.36},{"t":0.21,"v":0.45},{"t":0.22,"v":0.38},{"t":0.23,"v":0.44},{"t":0.24,"v":0.36},{"t":0.25,"v":0.45},{"t":0.26,"v":0.38},{"t":0.27,"v":0.43},{"t":0.28,"v":0.35},{"t":0.29,"v":0.44},{"t":0.3,"v":0.37},{"t":0.31,"v":0.42},{"t":0.32,"v":0.35},{"t":0.33,"v":0.44},{"t":0.34,"v":0.37},{"t":0.35,"v":0.43},{"t":0.36,"v":0.36},{"t":0.37,"v":0.44},{"t":0.38,"v":0.37},{"t":0.39,"v":0.45},{"t":0.4,"v":0.38},{"t":0.41,"v":0.44},{"t":0.42,"v":0.37},{"t":0.43,"v":0.45},{"t":0.44,"v":0.38},{"t":0.45,"v":0.44},{"t":0.46,"v":0.38},{"t":0.47,"v":0.46},{"t":0.48,"v":0.39},{"t":0.49,"v":0.45},{"t":0.5,"v":0.4},{"t":0.51,"v":0.47},{"t":0.52,"v":0.42},{"t":0.53,"v":0.5},{"t":0.54,"v":0.55},{"t":0.545,"v":0.95},{"t":0.55,"v":0.85},{"t":0.555,"v":1.05},{"t":0.56,"v":0.8},{"t":0.565,"v":1.2},{"t":0.57,"v":0.7},{"t":0.58,"v":0.62},{"t":0.59,"v":0.55},{"t":0.6,"v":0.62},{"t":0.61,"v":0.55},{"t":0.62,"v":0.6},{"t":0.63,"v":0.53},{"t":0.64,"v":0.6},{"t":0.65,"v":0.55},{"t":0.66,"v":0.62},{"t":0.67,"v":0.56},{"t":0.68,"v":0.8},{"t":0.685,"v":0.65},{"t":0.69,"v":0.58},{"t":0.7,"v":0.52},{"t":0.71,"v":0.6},{"t":0.72,"v":0.54},{"t":0.73,"v":0.62},{"t":0.74,"v":0.56},{"t":0.75,"v":0.6},{"t":0.76,"v":0.52},{"t":0.77,"v":0.58},{"t":0.78,"v":0.53},{"t":0.79,"v":0.6},{"t":0.8,"v":0.55},{"t":0.81,"v":0.62},{"t":0.82,"v":0.55},{"t":0.83,"v":0.63},{"t":0.84,"v":0.56},{"t":0.85,"v":0.62},{"t":0.86,"v":0.55},{"t":0.87,"v":0.65},{"t":0.875,"v":0.8},{"t":0.88,"v":0.6},{"t":0.89,"v":0.55},{"t":0.9,"v":0.6},{"t":0.91,"v":0.52},{"t":0.92,"v":0.58},{"t":0.93,"v":0.65},{"t":0.935,"v":1.4},{"t":0.94,"v":1.7},{"t":0.945,"v":1.2},{"t":0.95,"v":1.1},{"t":0.955,"v":1.3},{"t":0.96,"v":0.8},{"t":0.965,"v":0.9},{"t":0.97,"v":0.6},{"t":0.98,"v":0.75},{"t":0.99,"v":0.55},{"t":1.0,"v":0.65},{"t":1.01,"v":0.5},{"t":1.02,"v":0.62},{"t":1.03,"v":0.55},{"t":1.04,"v":0.68},{"t":1.05,"v":0.5},{"t":1.06,"v":0.65},{"t":1.07,"v":0.55},{"t":1.08,"v":0.62},{"t":1.09,"v":0.52},{"t":1.1,"v":0.6},{"t":1.11,"v":0.55},{"t":1.12,"v":0.65},{"t":1.13,"v":0.55},{"t":1.14,"v":0.62},{"t":1.15,"v":0.56},{"t":1.16,"v":0.7},{"t":1.164,"v":1.0},{"t":1.17,"v":0.9},{"t":1.175,"v":1.3},{"t":1.18,"v":1.1},{"t":1.186,"v":1.62},{"t":1.19,"v":1.2},{"t":1.195,"v":1.45},{"t":1.2,"v":1.0},{"t":1.205,"v":1.25},{"t":1.21,"v":0.9},{"t":1.22,"v":0.7},{"t":1.23,"v":0.6},{"t":1.24,"v":0.55},{"t":1.25,"v":0.3},{"t":1.255,"v":0.45},{"t":1.26,"v":0.55}],
"eb":[{"t":-0.04,"v":0},{"t":0,"v":0},{"t":0.003,"v":2.0},{"t":0.007,"v":2.95},{"t":0.012,"v":2.9},{"t":0.018,"v":3.05},{"t":0.023,"v":3.2},{"t":0.028,"v":3.0},{"t":0.033,"v":2.8},{"t":0.04,"v":2.85},{"t":0.048,"v":2.9},{"t":0.055,"v":3.0},{"t":0.063,"v":3.1},{"t":0.07,"v":3.2},{"t":0.078,"v":3.4},{"t":0.084,"v":3.64},{"t":0.088,"v":3.1},{"t":0.092,"v":2.4},{"t":0.096,"v":1.8},{"t":0.1,"v":1.4},{"t":0.105,"v":1.1},{"t":0.11,"v":0.9},{"t":0.119,"v":0.7},{"t":0.13,"v":0.5},{"t":0.144,"v":0.35},{"t":0.16,"v":0.3},{"t":0.18,"v":0.25},{"t":0.2,"v":0.25},{"t":0.21,"v":0.3},{"t":0.22,"v":0.22},{"t":0.24,"v":0.25},{"t":0.249,"v":0.5},{"t":0.26,"v":0.3},{"t":0.28,"v":0.22},{"t":0.3,"v":0.2},{"t":0.32,"v":0.2},{"t":0.34,"v":0.25},{"t":0.35,"v":0.5},{"t":0.36,"v":0.3},{"t":0.38,"v":0.22},{"t":0.4,"v":0.2},{"t":0.41,"v":0.98},{"t":0.415,"v":0.22},{"t":0.43,"v":0.2},{"t":0.45,"v":0.2},{"t":0.47,"v":0.22},{"t":0.485,"v":0.52},{"t":0.495,"v":0.25},{"t":0.51,"v":0.22},{"t":0.53,"v":0.25},{"t":0.546,"v":0.45},{"t":0.555,"v":0.25},{"t":0.57,"v":0.22},{"t":0.6,"v":0.2},{"t":0.63,"v":0.22},{"t":0.66,"v":0.2},{"t":0.68,"v":0.22},{"t":0.691,"v":0.9},{"t":0.7,"v":0.25},{"t":0.72,"v":0.22},{"t":0.74,"v":0.2},{"t":0.772,"v":0.9},{"t":0.78,"v":0.25},{"t":0.79,"v":0.3},{"t":0.8,"v":0.22},{"t":0.82,"v":0.22},{"t":0.832,"v":0.9},{"t":0.84,"v":0.25},{"t":0.86,"v":0.25},{"t":0.88,"v":0.3},{"t":0.892,"v":0.95},{"t":0.9,"v":0.3},{"t":0.908,"v":1.44},{"t":0.913,"v":0.35},{"t":0.93,"v":0.3},{"t":0.95,"v":0.25},{"t":0.96,"v":0.2},{"t":0.97,"v":0.1},{"t":0.98,"v":0.3},{"t":0.985,"v":1.5},{"t":0.99,"v":0.7},{"t":0.995,"v":0.4},{"t":1.0,"v":0.6},{"t":1.005,"v":0.9},{"t":1.01,"v":0.7},{"t":1.015,"v":1.1},{"t":1.02,"v":1.35},{"t":1.025,"v":1.0},{"t":1.03,"v":0.8},{"t":1.035,"v":0.9},{"t":1.04,"v":0.75},{"t":1.045,"v":0.6},{"t":1.05,"v":0.7},{"t":1.055,"v":0.6},{"t":1.06,"v":0.8},{"t":1.065,"v":0.5},{"t":1.07,"v":0.7},{"t":1.075,"v":0.9},{"t":1.08,"v":0.75},{"t":1.085,"v":0.9},{"t":1.09,"v":0.6},{"t":1.095,"v":0.8},{"t":1.1,"v":0.9},{"t":1.105,"v":1.0},{"t":1.108,"v":1.3},{"t":1.112,"v":0.5},{"t":1.115,"v":0.02},{"t":1.26,"v":0}]
},
"vconcat":[
{"width":430,"height":120,"resolve":{"axis":{"x":"independent","y":"independent"}},
"layer":[
{"encoding":{
"x":{"field":"t","type":"quantitative","scale":{"domain":[-0.04,1.26],"nice":false,"zero":false},"axis":{"values":[0,0.05,0.1,0.15,0.2,0.25,0.3,0.35,0.4,0.45,0.5,0.55,0.6,0.65,0.7,0.75,0.8,0.85,0.9,0.95,1,1.05,1.1,1.15,1.2,1.25],"labels":false,"title":null,"minExtent":0,"maxExtent":0}},
"y":{"field":"v","type":"quantitative","scale":{"domain":[-0.12,8.0],"nice":false,"zero":false},"axis":{"values":[0,1,2,3,4,5,6,7],"labelExpr":"datum.value%2==0 ? datum.label : ''","title":null,"minExtent":39,"maxExtent":39}}},
"layer":[
{"data":{"name":"pk"},"mark":{"type":"line","color":"#000000","strokeWidth":1.6,"interpolate":"step-after","clip":true}},
{"data":{"name":"pr"},"mark":{"type":"line","color":"#ec1c24","strokeWidth":1.6,"interpolate":"step-after","clip":true}},
{"data":{"name":"pb"},"mark":{"type":"line","color":"#3653a4","strokeWidth":1.6,"interpolate":"step-after","clip":true}},
{"data":{"name":"ak"},"mark":{"type":"line","color":"#000000","strokeWidth":1.6,"clip":true}},
{"data":{"name":"ar"},"mark":{"type":"line","color":"#ec1c24","strokeWidth":1.6,"clip":true}},
{"data":{"name":"ab"},"mark":{"type":"line","color":"#3653a4","strokeWidth":1.6,"clip":true}},
{"data":{"values":[{"t":0.014,"v":6.55,"label":"n_e (x 1e19 m^-3)"},{"t":0.49,"v":0.97,"label":"P_NBI /2 (MW)"}]},"mark":{"type":"text","align":"left","baseline":"middle","fontSize":17.5,"color":"#000"},"encoding":{"text":{"field":"label"}}},
{"data":{"values":[{"t":1.229,"v":6.84,"label":"(a)"}]},"mark":{"type":"text","align":"right","baseline":"middle","fontSize":19,"fontWeight":"bold","color":"#000"},"encoding":{"text":{"field":"label"}}}
]},
{"data":{"values":[{"t":0,"v":0}]},"mark":{"type":"point","opacity":0},
"encoding":{"x":{"field":"t","type":"quantitative","scale":{"domain":[-0.04,1.26],"nice":false,"zero":false},"axis":{"orient":"top","values":[0,0.05,0.1,0.15,0.2,0.25,0.3,0.35,0.4,0.45,0.5,0.55,0.6,0.65,0.7,0.75,0.8,0.85,0.9,0.95,1,1.05,1.1,1.15,1.2,1.25],"labels":false,"title":null,"minExtent":0,"maxExtent":0}},
"y":{"field":"v","type":"quantitative","scale":{"domain":[-0.12,8.0],"nice":false,"zero":false},"axis":{"orient":"right","values":[0,1,2,3,4,5,6,7],"labels":false,"title":null,"minExtent":0,"maxExtent":0}}}}
]},
{"width":430,"height":117,"resolve":{"axis":{"x":"independent","y":"independent"}},
"layer":[
{"encoding":{
"x":{"field":"t","type":"quantitative","scale":{"domain":[-0.04,1.26],"nice":false,"zero":false},"axis":{"values":[0,0.05,0.1,0.15,0.2,0.25,0.3,0.35,0.4,0.45,0.5,0.55,0.6,0.65,0.7,0.75,0.8,0.85,0.9,0.95,1,1.05,1.1,1.15,1.2,1.25],"labels":false,"title":null,"minExtent":0,"maxExtent":0}},
"y":{"field":"v","type":"quantitative","scale":{"domain":[-0.08,4.0],"nice":false,"zero":false},"axis":{"values":[0,1,2,3,4],"labelExpr":"datum.value==4 ? '' : datum.label","title":null,"minExtent":39,"maxExtent":39}}},
"layer":[
{"data":{"name":"bk"},"mark":{"type":"line","color":"#000000","strokeWidth":1.3,"clip":true}},
{"data":{"name":"br"},"mark":{"type":"line","color":"#ec1c24","strokeWidth":1,"clip":true}},
{"data":{"name":"bb"},"mark":{"type":"line","color":"#3653a4","strokeWidth":1,"clip":true}},
{"data":{"values":[{"t":-0.002,"v":3.4,"label":"Upper div. Dα"},{"t":-0.002,"v":2.65,"label":"(a. u.)"}]},"mark":{"type":"text","align":"left","baseline":"middle","fontSize":17.5,"color":"#000"},"encoding":{"text":{"field":"label"}}},
{"data":{"values":[{"t":1.229,"v":3.46,"label":"(b)"}]},"mark":{"type":"text","align":"right","baseline":"middle","fontSize":19,"fontWeight":"bold","color":"#000"},"encoding":{"text":{"field":"label"}}}
]},
{"data":{"values":[{"t":0,"v":0}]},"mark":{"type":"point","opacity":0},
"encoding":{"x":{"field":"t","type":"quantitative","scale":{"domain":[-0.04,1.26],"nice":false,"zero":false},"axis":{"orient":"top","values":[0,0.05,0.1,0.15,0.2,0.25,0.3,0.35,0.4,0.45,0.5,0.55,0.6,0.65,0.7,0.75,0.8,0.85,0.9,0.95,1,1.05,1.1,1.15,1.2,1.25],"labels":false,"title":null,"minExtent":0,"maxExtent":0}},
"y":{"field":"v","type":"quantitative","scale":{"domain":[-0.08,4.0],"nice":false,"zero":false},"axis":{"orient":"right","values":[0,1,2,3,4],"labels":false,"title":null,"minExtent":0,"maxExtent":0}}}}
]},
{"width":430,"height":119,"resolve":{"axis":{"x":"independent","y":"independent"}},
"layer":[
{"encoding":{
"x":{"field":"t","type":"quantitative","scale":{"domain":[-0.04,1.26],"nice":false,"zero":false},"axis":{"values":[0,0.05,0.1,0.15,0.2,0.25,0.3,0.35,0.4,0.45,0.5,0.55,0.6,0.65,0.7,0.75,0.8,0.85,0.9,0.95,1,1.05,1.1,1.15,1.2,1.25],"labels":false,"title":null,"minExtent":0,"maxExtent":0}},
"y":{"field":"v","type":"quantitative","scale":{"domain":[0,2.95],"nice":false,"zero":false},"axis":{"values":[0,1,2],"title":null,"minExtent":39,"maxExtent":39}}},
"layer":[
{"data":{"name":"ck"},"mark":{"type":"line","color":"#000000","strokeWidth":1,"clip":true}},
{"data":{"name":"cr"},"mark":{"type":"line","color":"#ec1c24","strokeWidth":1,"clip":true}},
{"data":{"name":"cb"},"mark":{"type":"line","color":"#3653a4","strokeWidth":1,"clip":true}},
{"data":{"values":[{"t":0.1,"v":2.69,"label":"Inner wall Dα"},{"t":0.1,"v":2.22,"label":"(x1e19 ph m^-2 s^-2)"}]},"mark":{"type":"text","align":"left","baseline":"middle","fontSize":17.5,"color":"#000"},"encoding":{"text":{"field":"label"}}},
{"data":{"values":[{"t":1.229,"v":2.48,"label":"(c)"}]},"mark":{"type":"text","align":"right","baseline":"middle","fontSize":19,"fontWeight":"bold","color":"#000"},"encoding":{"text":{"field":"label"}}}
]},
{"data":{"values":[{"t":0,"v":0}]},"mark":{"type":"point","opacity":0},
"encoding":{"x":{"field":"t","type":"quantitative","scale":{"domain":[-0.04,1.26],"nice":false,"zero":false},"axis":{"orient":"top","values":[0,0.05,0.1,0.15,0.2,0.25,0.3,0.35,0.4,0.45,0.5,0.55,0.6,0.65,0.7,0.75,0.8,0.85,0.9,0.95,1,1.05,1.1,1.15,1.2,1.25],"labels":false,"title":null,"minExtent":0,"maxExtent":0}},
"y":{"field":"v","type":"quantitative","scale":{"domain":[0,2.95],"nice":false,"zero":false},"axis":{"orient":"right","values":[0,1,2],"labels":false,"title":null,"minExtent":0,"maxExtent":0}}}}
]},
{"width":430,"height":118,"resolve":{"axis":{"x":"independent","y":"independent"}},
"layer":[
{"encoding":{
"x":{"field":"t","type":"quantitative","scale":{"domain":[-0.04,1.26],"nice":false,"zero":false},"axis":{"values":[0,0.05,0.1,0.15,0.2,0.25,0.3,0.35,0.4,0.45,0.5,0.55,0.6,0.65,0.7,0.75,0.8,0.85,0.9,0.95,1,1.05,1.1,1.15,1.2,1.25],"labels":false,"title":null,"minExtent":0,"maxExtent":0}},
"y":{"field":"v","type":"quantitative","scale":{"domain":[-0.02,1.52],"nice":false,"zero":false},"axis":{"values":[0,0.25,0.5,0.75,1,1.25,1.5],"labelExpr":"(datum.value==0 || datum.value==0.5 || datum.value==1) ? format(datum.value,'.1f') : ''","title":null,"minExtent":39,"maxExtent":39}}},
"layer":[
{"data":{"name":"dk"},"mark":{"type":"line","color":"#000000","strokeWidth":1.5,"clip":true}},
{"data":{"name":"dr"},"mark":{"type":"line","color":"#ec1c24","strokeWidth":1.3,"clip":true}},
{"data":{"name":"db"},"mark":{"type":"line","color":"#3653a4","strokeWidth":1.3,"clip":true}},
{"data":{"values":[{"t":-0.004,"v":1.31,"label":"Outer SP Dα"},{"t":-0.004,"v":1.05,"label":"(x1e22"},{"t":-0.004,"v":0.8,"label":"ph m^-2 s^-2)"}]},"mark":{"type":"text","align":"left","baseline":"middle","fontSize":17.5,"color":"#000"},"encoding":{"text":{"field":"label"}}},
{"data":{"values":[{"t":1.229,"v":1.31,"label":"(d)"}]},"mark":{"type":"text","align":"right","baseline":"middle","fontSize":19,"fontWeight":"bold","color":"#000"},"encoding":{"text":{"field":"label"}}},
{"data":{"values":[{"t":1.227,"v":0.69,"label":"129013"},{"t":1.227,"v":0.53,"label":"129061"},{"t":1.227,"v":0.36,"label":"129064"}]},"mark":{"type":"text","align":"right","baseline":"middle","fontSize":11},"encoding":{"text":{"field":"label"},"color":{"field":"label","type":"nominal","scale":{"domain":["129013","129061","129064"],"range":["#000000","#ec1c24","#3653a4"]},"legend":null}}}
]},
{"data":{"values":[{"t":0,"v":0}]},"mark":{"type":"point","opacity":0},
"encoding":{"x":{"field":"t","type":"quantitative","scale":{"domain":[-0.04,1.26],"nice":false,"zero":false},"axis":{"orient":"top","values":[0,0.05,0.1,0.15,0.2,0.25,0.3,0.35,0.4,0.45,0.5,0.55,0.6,0.65,0.7,0.75,0.8,0.85,0.9,0.95,1,1.05,1.1,1.15,1.2,1.25],"labels":false,"title":null,"minExtent":0,"maxExtent":0}},
"y":{"field":"v","type":"quantitative","scale":{"domain":[-0.02,1.52],"nice":false,"zero":false},"axis":{"orient":"right","values":[0,0.25,0.5,0.75,1,1.25,1.5],"labels":false,"title":null,"minExtent":0,"maxExtent":0}}}}
]},
{"width":430,"height":101,"resolve":{"axis":{"x":"independent","y":"independent"}},
"layer":[
{"encoding":{
"x":{"field":"t","type":"quantitative","scale":{"domain":[-0.04,1.26],"nice":false,"zero":false},"axis":{"values":[0,0.05,0.1,0.15,0.2,0.25,0.3,0.35,0.4,0.45,0.5,0.55,0.6,0.65,0.7,0.75,0.8,0.85,0.9,0.95,1,1.05,1.1,1.15,1.2,1.25],"labelExpr":"round(datum.value*100)%20==0 ? format(datum.value,'.1f') : ''","labelPadding":13,"title":"Time (s)","titleFontSize":18.5,"titleFontWeight":"normal","titlePadding":11}},
"y":{"field":"v","type":"quantitative","scale":{"domain":[-0.06,4.08],"nice":false,"zero":false},"axis":{"values":[0,1,2,3,4],"labelExpr":"datum.value==4 ? '' : datum.label","title":null,"minExtent":39,"maxExtent":39}}},
"layer":[
{"data":{"name":"ek"},"mark":{"type":"line","color":"#000000","strokeWidth":1.1,"clip":true}},
{"data":{"name":"er"},"mark":{"type":"line","color":"#ec1c24","strokeWidth":1.3,"clip":true}},
{"data":{"name":"eb"},"mark":{"type":"line","color":"#3653a4","strokeWidth":1.3,"clip":true}},
{"data":{"values":[{"t":0.149,"v":3.42,"label":"Outer SOL R=1.54 m"},{"t":0.149,"v":2.6,"label":"Dα\u00a0 (a. u.)"}]},"mark":{"type":"text","align":"left","baseline":"middle","fontSize":17.5,"color":"#000"},"encoding":{"text":{"field":"label"}}},
{"data":{"values":[{"t":1.229,"v":3.49,"label":"(e)"}]},"mark":{"type":"text","align":"right","baseline":"middle","fontSize":19,"fontWeight":"bold","color":"#000"},"encoding":{"text":{"field":"label"}}}
]},
{"data":{"values":[{"t":0,"v":0}]},"mark":{"type":"point","opacity":0},
"encoding":{"x":{"field":"t","type":"quantitative","scale":{"domain":[-0.04,1.26],"nice":false,"zero":false},"axis":{"orient":"top","values":[0,0.05,0.1,0.15,0.2,0.25,0.3,0.35,0.4,0.45,0.5,0.55,0.6,0.65,0.7,0.75,0.8,0.85,0.9,0.95,1,1.05,1.1,1.15,1.2,1.25],"labels":false,"title":null,"minExtent":0,"maxExtent":0}},
"y":{"field":"v","type":"quantitative","scale":{"domain":[-0.06,4.08],"nice":false,"zero":false},"axis":{"orient":"right","values":[0,1,2,3,4],"labels":false,"title":null,"minExtent":0,"maxExtent":0}}}}
]}
]
}
